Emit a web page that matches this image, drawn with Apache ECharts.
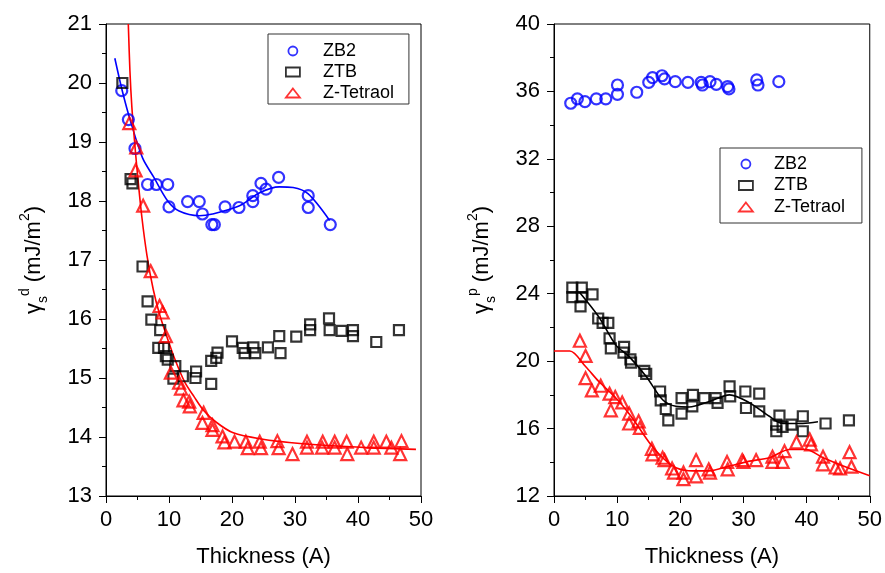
<!DOCTYPE html>
<html>
<head>
<meta charset="utf-8">
<script src="https://cdn.jsdelivr.net/npm/echarts@6/dist/echarts.min.js"></script>
<style>
html,body{margin:0;padding:0;background:#fff;}
#chart{width:885px;height:573px;}
</style>
</head>
<body>
<div id="chart"></div>
<script>
// ---------- Data (Thickness in A, surface energy in mJ/m^2) ----------
const seriesNames = ['ZB2', 'ZTB', 'Z-Tetraol'];

// Left panel: dispersive component
const leftZB2 = [[2.5,19.87],[3.55,19.38],[4.6,18.89],[6.6,18.28],[8.0,18.28],[9.8,18.28],[10.0,17.9],[12.95,17.99],[14.8,17.99],[15.3,17.78],[16.8,17.6],[17.2,17.6],[18.9,17.9],[21.1,17.89],[23.3,18.09],[23.3,17.99],[24.6,18.3],[25.4,18.2],[27.4,18.4],[32.1,18.09],[32.1,17.89],[35.6,17.6]];
const leftZB2Fit = [[1.4,20.42],[2.6,19.86],[3.9,19.35],[5.8,18.73],[7.6,18.4],[9.8,18.0],[11.6,17.83],[14.8,17.75],[16.9,17.78],[21.2,17.92],[24.4,18.14],[27.5,18.24],[29.7,18.23],[32.1,18.12],[35.5,17.67]];
const leftZTB = [[2.6,20.0],[3.9,18.37],[4.2,18.3],[5.8,16.89],[6.6,16.3],[7.2,15.99],[8.6,15.81],[8.3,15.51],[9.2,15.51],[9.5,15.37],[9.8,15.31],[11.0,15.2],[10.7,14.99],[12.2,15.03],[14.3,15.11],[14.2,15.0],[16.7,14.9],[16.7,15.29],[17.7,15.43],[17.5,15.34],[20.0,15.62],[21.7,15.51],[22.0,15.42],[23.4,15.52],[23.7,15.42],[25.7,15.52],[27.5,15.71],[27.7,15.42],[30.2,15.7],[32.4,15.91],[32.4,15.81],[35.4,16.01],[35.5,15.81],[37.4,15.8],[39.2,15.81],[39.2,15.71],[42.9,15.61],[46.5,15.81]];
const leftTetraol = [[3.7,19.32],[4.8,18.91],[4.7,18.52],[5.9,17.92],[7.1,16.81],[8.5,16.22],[9.0,16.11],[9.5,15.71],[10.3,15.09],[11.6,14.92],[11.9,14.82],[12.3,14.62],[13.2,14.6],[13.3,14.52],[15.5,14.41],[15.3,14.24],[16.9,14.2],[16.9,14.12],[18.5,14.01],[18.8,13.91],[20.4,13.92],[22.2,13.92],[22.5,13.81],[24.4,13.92],[24.6,13.81],[27.2,13.93],[27.4,13.81],[29.6,13.71],[31.9,13.92],[31.9,13.82],[34.4,13.92],[34.3,13.82],[36.3,13.92],[36.3,13.82],[38.2,13.92],[38.3,13.71],[40.5,13.82],[42.5,13.92],[42.5,13.82],[44.5,13.92],[45.3,13.82],[46.9,13.93],[46.7,13.71]];
const leftTetraolFit = [[3.54,21.0],[3.8,20.2],[4.1,19.6],[4.5,19.05],[5.0,18.45],[5.7,17.72],[6.5,17.08],[7.5,16.5],[8.5,16.08],[9.6,15.72],[11.0,15.3],[12.5,14.93],[14.0,14.68],[15.5,14.45],[17.5,14.25],[20.2,14.07],[24.4,13.97],[30.8,13.89],[41.4,13.82],[49.2,13.79]];

// Right panel: polar component
const rightZB2 = [[2.65,35.3],[3.7,35.56],[4.9,35.4],[6.7,35.56],[8.2,35.56],[10.05,35.83],[10.05,36.38],[13.1,35.95],[15.0,36.54],[15.6,36.82],[17.1,36.93],[17.5,36.74],[19.2,36.58],[21.2,36.54],[23.3,36.54],[23.5,36.38],[24.7,36.58],[25.7,36.42],[27.5,36.29],[27.7,36.15],[32.1,36.68],[32.3,36.38],[35.6,36.58]];
const rightZTB = [[2.9,24.36],[4.4,24.36],[2.9,23.8],[4.4,23.8],[4.2,23.25],[6.1,23.96],[7.0,22.53],[7.7,22.27],[8.6,22.27],[8.8,21.35],[9.0,20.76],[11.1,20.85],[11.0,20.5],[12.1,20.11],[12.2,19.91],[14.3,19.42],[14.6,19.25],[16.8,18.2],[16.9,17.67],[17.7,17.16],[18.1,16.49],[20.2,17.81],[20.2,16.89],[22.0,18.0],[21.9,17.32],[23.8,17.81],[25.6,17.81],[25.9,17.52],[27.8,18.5],[27.9,17.91],[30.3,18.2],[30.4,17.22],[32.5,18.07],[32.5,17.02],[35.7,16.77],[35.2,16.24],[35.2,15.84],[36.2,16.1],[37.6,16.24],[39.4,16.73],[39.4,15.84],[43.0,16.3],[46.7,16.49]];
const rightZTBFit = [[4.0,24.1],[7.1,22.62],[9.8,20.95],[11.9,20.27],[14.6,19.09],[17.2,17.71],[19.3,17.32],[21.4,17.28],[24.6,17.61],[27.8,18.0],[31.0,17.52],[34.1,16.73],[36.2,16.3],[39.4,16.3],[41.8,16.4]];
const rightTetraol = [[4.1,21.21],[5.0,20.31],[5.0,18.99],[6.0,18.26],[7.4,18.54],[8.8,18.07],[9.0,17.08],[9.7,17.87],[10.8,17.55],[11.9,16.89],[11.9,16.3],[13.4,16.43],[13.6,16.04],[15.5,14.8],[15.6,14.47],[17.2,14.27],[17.5,14.13],[18.7,13.63],[19.0,13.39],[20.5,13.39],[20.5,13.0],[22.5,14.13],[22.5,13.16],[24.5,13.58],[24.7,13.39],[27.4,14.02],[27.5,13.58],[29.8,14.13],[30.0,14.02],[32.0,14.13],[34.6,14.33],[34.6,14.02],[36.2,14.02],[36.5,14.66],[38.4,15.19],[40.5,15.35],[40.7,15.06],[42.6,14.33],[42.6,13.88],[44.6,13.69],[45.3,13.63],[46.8,14.6],[47.1,13.74]];
const rightTetraolFit = [[0,20.6],[2.5,20.6],[5.0,19.68],[7.1,18.79],[9.8,17.81],[12.2,16.73],[15.1,15.16],[17.2,14.27],[19.3,13.68],[22.0,13.49],[24.6,13.49],[27.8,13.78],[31.0,14.07],[34.1,14.27],[37.3,14.76],[39.9,14.76],[42.6,14.27],[45.8,13.78],[50,13.2]];

// ---------- Styling ----------
const FONT = 'Liberation Sans, Arial, sans-serif';
const BLUE = '#0000ff', BLACK = '#000000', RED = '#ff0000';
const colors = {'ZB2': BLUE, 'ZTB': BLACK, 'Z-Tetraol': RED};
const symbols = {'ZB2': 'circle', 'ZTB': 'rect', 'Z-Tetraol': 'triangle'};
const sizes = {'ZB2': 11, 'ZTB': 10, 'Z-Tetraol': 12};

const titleRich = {
  g: {fontSize: 22, fontFamily: FONT, color: '#000', lineHeight: 32, verticalAlign: 'middle'},
  sub: {fontSize: 14, fontFamily: FONT, color: '#000', lineHeight: 14, verticalAlign: 'bottom'},
  sup: {fontSize: 14, fontFamily: FONT, color: '#000', lineHeight: 14, verticalAlign: 'top'}
};

function xAxisCfg(gi) {
  return {
    type: 'value', gridIndex: gi, min: 0, max: 50, interval: 10,
    name: 'Thickness (A)', nameLocation: 'middle', nameGap: 50,
    nameTextStyle: {fontSize: 22, fontFamily: FONT, color: '#000'},
    axisLine: {onZero: false, lineStyle: {color: '#000', width: 1}},
    axisTick: {inside: false, length: 7, lineStyle: {color: '#000'}},
    minorTick: {show: true, splitNumber: 2, length: 4, lineStyle: {color: '#000'}},
    axisLabel: {fontSize: 22, fontFamily: FONT, color: '#000', margin: 13},
    splitLine: {show: false}
  };
}
function yAxisCfg(gi, min, max, interval, supText) {
  return {
    type: 'value', gridIndex: gi, min: min, max: max, interval: interval,
    name: '{g|γ}{sub|s}{sup|' + supText + '}{g| (mJ/m}{sup|2}{g|)}',
    nameLocation: 'middle', nameGap: 56,
    nameTextStyle: {rich: titleRich},
    axisLine: {onZero: false, lineStyle: {color: '#000', width: 1}},
    axisTick: {inside: false, length: 7, lineStyle: {color: '#000'}},
    minorTick: {show: true, splitNumber: 2, length: 4, lineStyle: {color: '#000'}},
    axisLabel: {fontSize: 22, fontFamily: FONT, color: '#000', margin: 14},
    splitLine: {show: false}
  };
}
function scatter(name, data, gi) {
  return {
    type: 'scatter', name: name, data: data, xAxisIndex: gi, yAxisIndex: gi,
    symbol: symbols[name], symbolSize: sizes[name],
    itemStyle: {color: 'rgba(0,0,0,0)', borderColor: colors[name], borderWidth: 2.2},
    silent: true, z: 3
  };
}
function fit(color, data, gi, smooth) {
  return {
    type: 'line', data: data, xAxisIndex: gi, yAxisIndex: gi,
    showSymbol: false, symbol: 'none', smooth: smooth,
    lineStyle: {color: color, width: 1.6}, silent: true, z: 2, clip: true
  };
}
function legendCfg(left, top, padding, textPad, gap) {
  return {
    left: left, top: top, orient: 'vertical', padding: padding,
    itemWidth: 14, itemHeight: 9, itemGap: gap,
    borderColor: '#333', borderWidth: 1, selectedMode: false,
    formatter: function (n) { return '{t|' + n + '}'; },
    textStyle: {rich: {t: {fontSize: 18, fontFamily: FONT, color: '#000', lineHeight: 20, padding: [0, 0, 0, textPad]}}},
    data: seriesNames.map(function (n) {
      return {name: n, icon: symbols[n], itemStyle: {color: 'rgba(0,0,0,0)', borderColor: colors[n], borderWidth: 1.8}};
    })
  };
}

const chart = echarts.init(document.getElementById('chart'), null, {renderer: 'canvas'});
chart.setOption({
  backgroundColor: '#fff',
  animation: false,
  grid: [
    {left: 106, top: 24, width: 315, height: 473, show: true, borderColor: '#000', borderWidth: 1},
    {left: 554, top: 24, width: 317, height: 473, show: true, borderColor: '#000', borderWidth: 1}
  ],
  xAxis: [xAxisCfg(0), xAxisCfg(1)],
  yAxis: [yAxisCfg(0, 13, 21, 1, 'd'), yAxisCfg(1, 12, 40, 4, 'p')],
  legend: [
    legendCfg(268, 34, [8, 15, 2, 17], 18, 3),
    legendCfg(720, 148, [7, 17, 7, 18], 16, 3.5)
  ],
  series: [
    fit(BLUE, leftZB2Fit, 0, 0.3),
    fit(RED, leftTetraolFit, 0, 0.3),
    scatter('ZB2', leftZB2, 0),
    scatter('ZTB', leftZTB, 0),
    scatter('Z-Tetraol', leftTetraol, 0),
    fit(BLACK, rightZTBFit, 1, 0.3),
    fit(RED, rightTetraolFit, 1, 0.3),
    scatter('ZB2', rightZB2, 1),
    scatter('ZTB', rightZTB, 1),
    scatter('Z-Tetraol', rightTetraol, 1)
  ]
});
</script>
</body>
</html>
